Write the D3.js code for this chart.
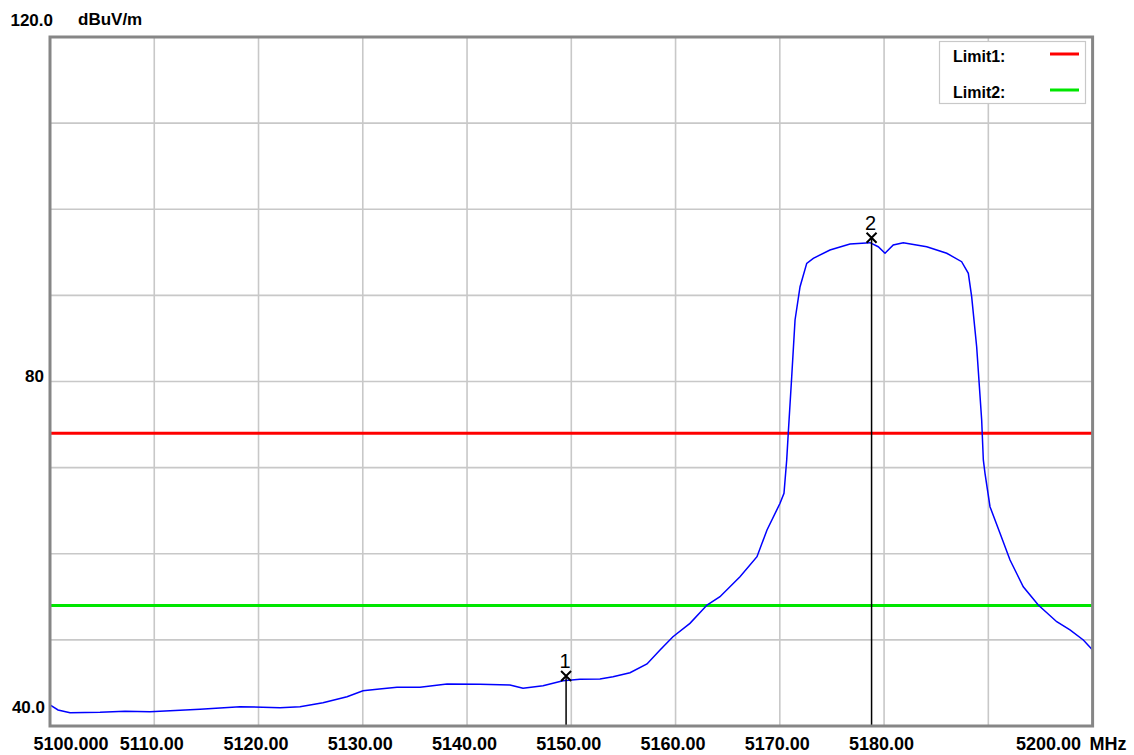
<!DOCTYPE html>
<html><head><meta charset="utf-8">
<script src="https://cdn.jsdelivr.net/npm/d3@7"></script>
<style>
body{margin:0;background:#fff}
svg{display:block}
text{font-family:"Liberation Sans",Arial,sans-serif;fill:#000}
</style>
</head><body>
<svg id="c" width="1134" height="755"></svg>
<script>
// ---- data ----
const freqMHz = [5100.00,5100.77,5101.92,5104.80,5107.2,5109.59,5112.0,5114.39,5118.22,5122.06,5123.98,5126.18,5128.49,5130.02,5131.6,5133.28,5135.49,5138.08,5141.24,5144.12,5145.37,5147.29,5149.20,5150.83,5152.75,5154.00,5155.63,5157.26,5158.51,5159.75,5161.38,5163.02,5164.26,5166.18,5167.81,5168.77,5170.02,5170.40,5170.66,5170.81,5171.14,5171.46,5171.94,5172.58,5173.21,5174.81,5176.73,5178.65,5179.44,5180.09,5180.88,5181.84,5184.09,5186.01,5187.44,5188.08,5188.40,5188.88,5189.36,5189.52,5189.68,5190.16,5191.12,5192.08,5193.35,5194.79,5196.56,5197.83,5199.11,5200.00];
const levelDbuV = [42.44,41.86,41.54,41.59,41.70,41.66,41.80,41.94,42.24,42.12,42.24,42.71,43.40,44.10,44.30,44.49,44.49,44.88,44.84,44.76,44.38,44.68,45.26,45.42,45.46,45.72,46.19,47.20,48.82,50.37,51.92,54.05,55.01,57.34,59.66,62.76,65.86,67.02,70.89,73.99,80.56,87.14,91.01,93.72,94.30,95.27,95.96,96.12,95.65,94.89,95.85,96.12,95.65,94.89,93.91,92.56,89.85,84.04,75.53,70.89,69.34,65.46,62.37,59.27,56.17,54.05,52.11,51.15,49.99,48.82];

const limitNames = ["Limit1:", "Limit2:"];
const limitValues = [74, 54];
const limitColors = ["#ff0000", "#00e600"];

const markerLabels = ["1", "2"];
const markerFreq = [5149.5, 5178.8];
const markerLevel = [45.8, 96.7];

const xTickValues = [5100,5110,5120,5130,5140,5150,5160,5170,5180,5190,5200];
const xTickLabels = ["5100.000","5110.00","5120.00","5130.00","5140.00","5150.00","5160.00","5170.00","5180.00","","5200.00"];
const xUnit = "MHz";
const yGridValues = [40,50,60,70,80,90,100,110,120];
const yTickValues = [120, 80, 40];
const yTickLabels = ["120.0", "80", "40.0"];
const yUnit = "dBuV/m";

// ---- chart ----
const svg = d3.select("#c");
const x = d3.scaleLinear().domain([5100, 5200]).range([50, 1092.6]);
const y = d3.scaleLinear().domain([40, 120]).range([726, 37]);

svg.append("rect").attr("width",1134).attr("height",755).attr("fill","#fff");

// grid
const grid = svg.append("g").attr("stroke","#c8c8c8").attr("stroke-width",1.6);
grid.selectAll("line.v").data(xTickValues.slice(1,-1)).join("line")
  .attr("x1",d=>x(d)).attr("x2",d=>x(d)).attr("y1",y(120)).attr("y2",y(40));
grid.selectAll("line.h").data(yGridValues.slice(1,-1)).join("line")
  .attr("x1",x(5100)).attr("x2",x(5200)).attr("y1",d=>y(d)).attr("y2",d=>y(d));

// limits
svg.append("g").selectAll("line").data(limitValues).join("line")
  .attr("x1",x(5100)).attr("x2",x(5200))
  .attr("y1",d=>y(d)).attr("y2",d=>y(d))
  .attr("stroke",(d,i)=>limitColors[i]).attr("stroke-width",3);

// trace
const pts = freqMHz.map((f,i)=>[f, levelDbuV[i]]);
svg.append("path").datum(pts)
  .attr("d", d3.line().x(d=>x(d[0])).y(d=>y(d[1])))
  .attr("fill","none").attr("stroke","#0000ff").attr("stroke-width",1.5);

// markers
const mk = svg.append("g");
markerFreq.forEach((f,i)=>{
  const mx = x(f), my = y(markerLevel[i]);
  mk.append("line").attr("x1",mx).attr("x2",mx).attr("y1",my).attr("y2",y(40))
    .attr("stroke","#000").attr("stroke-width",1.5);
  mk.append("path").attr("d",`M${mx-5},${my-5}L${mx+5},${my+5}M${mx+5},${my-5}L${mx-5},${my+5}`)
    .attr("stroke","#000").attr("stroke-width",2);
  mk.append("text").attr("x",mx-1).attr("y",my-8).attr("text-anchor","middle")
    .attr("font-size",20).text(markerLabels[i]);
});

// border
svg.append("rect").attr("x",x(5100)).attr("y",y(120))
  .attr("width",x(5200)-x(5100)).attr("height",y(40)-y(120))
  .attr("fill","none").attr("stroke","#868686").attr("stroke-width",3);

// x axis labels
const xAxis = d3.axisBottom(x).tickValues(xTickValues)
  .tickFormat((d,i)=>xTickLabels[i]).tickSize(0).tickPadding(0);
const gx = svg.append("g").attr("transform",`translate(0,${y(40)})`).call(xAxis);
gx.select(".domain").remove();
gx.selectAll("text").attr("font-size",18).attr("font-weight","bold")
  .attr("font-family","'Liberation Sans',Arial,sans-serif")
  .attr("fill","#000").attr("dy",null).attr("y",24).attr("dx",-3);
gx.selectAll(".tick").filter(d=>d===5100).select("text")
  .attr("text-anchor","start").attr("dx",-17);
gx.selectAll(".tick").filter(d=>d===5200).select("text")
  .attr("text-anchor","end").attr("dx",-12);
svg.append("text").attr("x",x(5200)-3).attr("y",y(40)+24)
  .attr("font-size",18).attr("font-weight","bold").text(xUnit);

// y axis labels
const yAxis = d3.axisLeft(y).tickValues(yTickValues)
  .tickFormat((d,i)=>yTickLabels[i]).tickSize(0).tickPadding(0);
const gy = svg.append("g").attr("transform",`translate(${x(5100)},0)`).call(yAxis);
gy.select(".domain").remove();
gy.selectAll("text").attr("font-size",17).attr("font-weight","bold")
  .attr("font-family","'Liberation Sans',Arial,sans-serif").attr("fill","#000").attr("dy",null);
gy.selectAll(".tick").filter(d=>d===120).select("text").attr("x",3).attr("y",-12);
gy.selectAll(".tick").filter(d=>d===80).select("text").attr("x",-6).attr("y",0);
gy.selectAll(".tick").filter(d=>d===40).select("text").attr("x",-5).attr("y",-14);
svg.append("text").attr("x",78).attr("y",y(120)-12)
  .attr("font-size",17).attr("font-weight","bold").text(yUnit);

// legend
const lg = svg.append("g");
lg.append("rect").attr("x",939.5).attr("y",41.5).attr("width",146).attr("height",62)
  .attr("fill","#fff").attr("stroke","#c8c8c8").attr("stroke-width",1.2);
limitNames.forEach((n,i)=>{
  const ly = 54 + i*36;
  lg.append("text").attr("x",953).attr("y",ly+8).attr("font-size",16).attr("font-weight","bold").text(n);
  lg.append("line").attr("x1",1050).attr("x2",1079).attr("y1",ly).attr("y2",ly)
    .attr("stroke",limitColors[i]).attr("stroke-width",3);
});
</script>
</body></html>
